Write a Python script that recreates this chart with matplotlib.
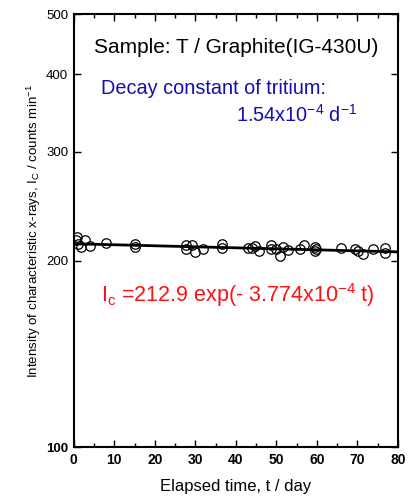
import numpy as np
import matplotlib
matplotlib.use("Agg")
import matplotlib.pyplot as plt
from matplotlib.ticker import FixedLocator, NullLocator, MultipleLocator

plt.rcParams['font.family'] = ['Liberation Sans', 'DejaVu Sans']
plt.rcParams['mathtext.fontset'] = 'custom'
plt.rcParams['mathtext.rm'] = 'Liberation Sans'
plt.rcParams['mathtext.it'] = 'Liberation Sans'

# Data
t_days = [0.6, 1.0, 1.8, 2.8, 3.9, 0.7, 8.0, 15.0, 15.0,
          27.8, 27.8, 29.1, 29.9, 31.8, 36.7, 36.7,
          43.0, 43.9, 44.7, 45.7, 48.8, 48.8, 50.0, 50.9, 51.7, 52.8,
          55.8, 56.9, 59.5, 59.5, 59.9, 65.9, 69.4, 70.2, 71.4, 73.9, 76.8, 76.8]
intensity = [215.8, 213.0, 210.0, 215.8, 211.0, 218.0, 213.5, 213.0, 210.0,
             212.0, 209.0, 211.8, 206.8, 209.0, 212.5, 209.5,
             209.5, 209.5, 211.0, 207.6, 212.0, 209.0, 209.0, 203.3, 210.5, 208.0,
             209.0, 212.3, 210.5, 207.5, 209.0, 209.5, 208.5, 207.0, 205.0, 209.0, 209.5, 206.0]
fit_a = 212.9
fit_k = 3.774e-4
x_ticks = [0, 10, 20, 30, 40, 50, 60, 70, 80]
y_ticks = [100, 200, 300, 400, 500]

fig = plt.figure(figsize=(4.08, 4.97), dpi=100)
ax = fig.add_axes([0.181, 0.1006, 0.794, 0.871])

ax.set_yscale('log')
ax.set_xlim(0, 80)
ax.set_ylim(100, 500)

tt = np.linspace(0, 80, 200)
ax.plot(tt, fit_a * np.exp(-fit_k * tt), color='black', lw=2.0, zorder=2)
ax.plot(t_days, intensity, 'o', mfc='none', mec='black', ms=6.8, mew=0.9, zorder=3)

ax.xaxis.set_major_locator(FixedLocator(x_ticks))
ax.xaxis.set_minor_locator(MultipleLocator(5))
ax.yaxis.set_major_locator(FixedLocator(y_ticks))
ax.yaxis.set_minor_locator(NullLocator())
ax.set_xticklabels([str(v) for v in x_ticks], fontweight='bold', fontsize=10)
ax.set_yticklabels([str(v) for v in y_ticks], fontsize=9.5)
for lbl in ax.get_yticklabels():
    if lbl.get_text() == '100':
        lbl.set_fontweight('bold')

ax.tick_params(which='both', direction='in', top=True, right=True, width=1.0)
ax.tick_params(which='major', length=5, pad=4)
ax.tick_params(which='minor', length=3)
for s in ax.spines.values():
    s.set_linewidth(1.5)

ax.set_xlabel('Elapsed time, t / day', fontsize=12, labelpad=9)
ax.set_ylabel(r'Intensity of characteristic x-rays, I$_\mathregular{C}$ / counts min$^\mathregular{-1}$',
              fontsize=9.6, labelpad=2.5)

ax.text(0.5, 0.924, 'Sample: T / Graphite(IG-430U)', transform=ax.transAxes,
        ha='center', va='center', fontsize=15, color='black')
ax.text(0.085, 0.829, 'Decay constant of tritium:', transform=ax.transAxes,
        ha='left', va='center', fontsize=14.3, color='#1010b0')
ax.text(0.875, 0.767, r'1.54x10$^\mathregular{-4}$ d$^\mathregular{-1}$', transform=ax.transAxes,
        ha='right', va='center', fontsize=14.3, color='#1010b0')
ax.text(0.085, 0.351, r'I$_\mathregular{c}$ =212.9 exp(- 3.774x10$^\mathregular{-4}$ t)',
        transform=ax.transAxes, ha='left', va='center', fontsize=15.5, color='#ff1010')

fig.savefig('out.png', dpi=100)
